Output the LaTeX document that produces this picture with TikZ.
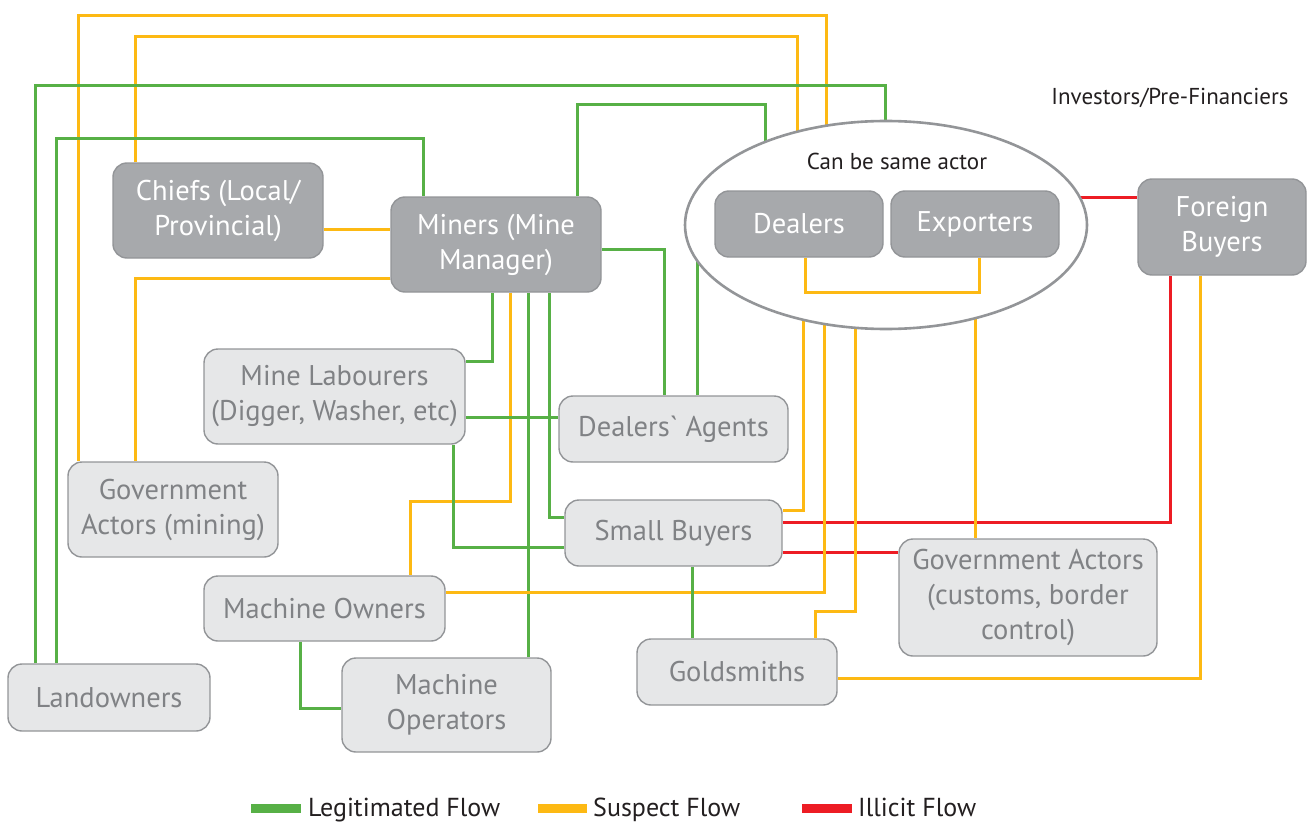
\documentclass[tikz,border=0pt]{standalone}
\usepackage{fontspec}
\setmainfont{PT Sans}
\usepackage{tikz}
\usetikzlibrary{shapes.geometric}
\pgfdeclarelayer{bg}
\pgfsetlayers{bg,main}
\definecolor{boxline}{RGB}{147,149,152}
\definecolor{darkfill}{RGB}{167,169,172}
\definecolor{lightfill}{RGB}{230,231,232}
\definecolor{lighttext}{RGB}{128,130,133}
\definecolor{legitgreen}{RGB}{87,176,70}
\definecolor{suspectyellow}{RGB}{253,185,19}
\definecolor{illicitred}{RGB}{237,28,36}
\definecolor{notetext}{RGB}{35,31,32}
\newcommand{\actorfont}{\fontsize{28.5}{35}\selectfont}
\newcommand{\notefont}{\fontsize{23}{27}\selectfont}
\newcommand{\keyfont}{\fontsize{26}{30}\selectfont}
\tikzset{
    actor/.style={rectangle, rounded corners=14pt, draw=boxline, line width=1.4pt,
        align=center, font=\actorfont, inner sep=0pt},
    dark/.style={actor, fill=darkfill, text=white},
    light/.style={actor, fill=lightfill, text=lighttext},
    legit/.style={draw=legitgreen, line width=3pt},
    suspect/.style={draw=suspectyellow, line width=3pt},
    illicit/.style={draw=illicitred, line width=3pt},
    note/.style={font=\notefont, text=notetext, inner sep=0pt},
    keytext/.style={note, font=\keyfont, anchor=base west}
}
\begin{document}
\begin{tikzpicture}[x=1pt, y=-1pt]
    \useasboundingbox (0,0) rectangle (1309,824);

    \node (same) [ellipse, draw=boxline, line width=2.6pt, fill=white,
        minimum width=402pt, minimum height=208pt] at (886,225) {};
    \node (sametext) [note] at (897,161) {Can be same actor};
    \node (investors) [note] at (1170,98) {Investors/Pre-Financiers};

    \node (chiefs) [dark, minimum width=210pt, minimum height=95pt] at (218,210.5) {Chiefs (Local/\\Provincial)};
    \node (miners) [dark, minimum width=210pt, minimum height=95pt] at (496,244.5) {Miners (Mine\\Manager)};
    \node (dealers) [dark, minimum width=168pt, minimum height=66pt] at (799,224) {Dealers};
    \node (exporters) [dark, minimum width=168pt, minimum height=66pt] at (975,224) {Exporters};
    \node (foreign) [dark, minimum width=168pt, minimum height=96pt] at (1222,227) {Foreign\\Buyers};

    \node (labour) [light, minimum width=261pt, minimum height=95pt] at (334.5,396.5) {Mine Labourers\\(Digger, Washer, etc)};
    \node (agents) [light, minimum width=229pt, minimum height=66pt] at (673.5,429) {Dealers\textasciigrave{} Agents};
    \node (govmin) [light, minimum width=210pt, minimum height=95pt] at (173,509.5) {Government\\Actors (mining)};
    \node (small) [light, minimum width=217pt, minimum height=66pt] at (673.5,533) {Small Buyers};
    \node (govcus) [light, minimum width=258pt, minimum height=117pt] at (1028,597.5) {Government Actors\\(customs, border\\control)};
    \node (owners) [light, minimum width=241pt, minimum height=65pt] at (324.5,608.5) {Machine Owners};
    \node (land) [light, minimum width=202pt, minimum height=67pt] at (109,697.5) {Landowners};
    \node (operators) [light, minimum width=209pt, minimum height=94pt] at (446.5,705) {Machine\\Operators};
    \node (gold) [light, minimum width=200pt, minimum height=66pt] at (737,672) {Goldsmiths};

    % flows behind the boxes
    \begin{pgfonlayer}{bg}
    \draw [suspect] (govmin.north -| 78,0) |- (826,16) -- (826,0 |- same.center);
    \draw [suspect] (chiefs.north -| 135,0) |- (797,37) -- (797,0 |- same.center);
    \draw [legit] (land.north -| 35,0) |- (885,86) -- (885,0 |- same.center);
    \draw [legit] (land.north -| 56,0) |- (423,139) -- (miners.north -| 423,0);
    \draw [suspect] (chiefs.east |- 0,229) -- (miners.west |- 0,229);
    \draw [suspect] (miners.west |- 0,278) -| (govmin.north -| 135,0);
    \draw [legit] (miners.north -| 577,0) |- (765,105) -- (765,0 |- same.center);
    \draw [legit] (miners.east |- 0,249) -| (agents.north -| 664,0);
    \draw [legit] (agents.north -| 697,0) -- (697,0 |- same.center);
    \draw [legit] (miners.south -| 492,0) |- (labour.east |- 0,361);
    \draw [suspect] (miners.south -| 510,0) |- (410,501) -- (owners.north -| 410,0);
    \draw [legit] (miners.south -| 528,0) -- (operators.north -| 528,0);
    \draw [legit] (miners.south -| 549,0) |- (small.west |- 0,517);
    \draw [legit] (labour.east |- 0,417) -- (agents.west |- 0,417);
    \draw [legit] (labour.south -| 453,0) |- (small.west |- 0,547);
    \draw [suspect] (small.east |- 0,510) -| (803,0 |- same.center);
    \draw [illicit] (small.east |- 0,522) -| (foreign.south -| 1170,0);
    \draw [illicit] (small.east |- 0,552) -- (govcus.west |- 0,552);
    \draw [illicit] (same.center |- 0,197) -- (foreign.west |- 0,197);
    \draw [suspect] (824,0 |- same.center) |- (owners.east |- 0,592);
    \draw [suspect] (855,0 |- same.center) |- (815,611) -- (gold.north -| 815,0);
    \draw [suspect] (975,0 |- same.center) -- (govcus.north -| 975,0);
    \draw [suspect] (foreign.south -| 1200,0) |- (gold.east |- 0,678);
    \draw [legit] (small.south -| 692,0) -- (gold.north -| 692,0);
    \draw [legit] (owners.south -| 300,0) |- (operators.west |- 0,708);
    \end{pgfonlayer}

    % inside the ellipse
    \draw [suspect] (dealers.south -| 805,0) |- (979,292) -- (exporters.south -| 979,0);

    % key
    \node (keylegit) [keytext] at (308,816) {Legitimated Flow};
    \node (keysuspect) [keytext] at (593,816) {Suspect Flow};
    \node (keyillicit) [keytext] at (858,816) {Illicit Flow};
    \draw [legit, line width=9pt] (251,808) -- ([xshift=-7pt]keylegit.west |- 0,808);
    \draw [suspect, line width=9pt] (538,808) -- ([xshift=-6pt]keysuspect.west |- 0,808);
    \draw [illicit, line width=9pt] (802,808) -- ([xshift=-6pt]keyillicit.west |- 0,808);
\end{tikzpicture}
\end{document}
